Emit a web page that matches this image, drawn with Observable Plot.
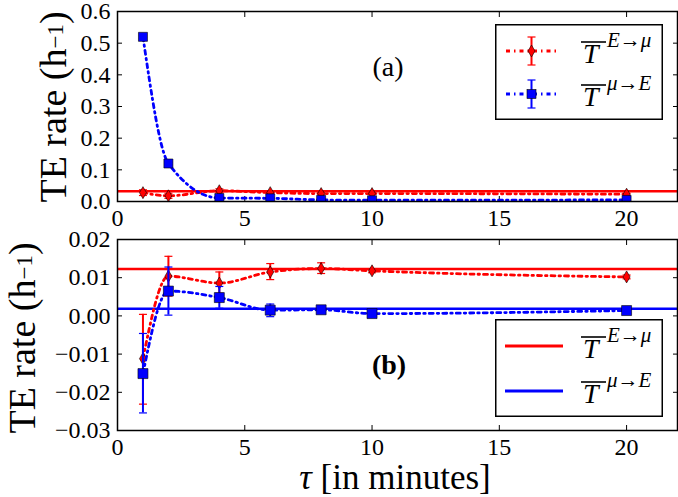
<!DOCTYPE html>
<html>
<head>
<meta charset="utf-8">
<script src="https://cdn.jsdelivr.net/npm/d3@7"></script>
<script src="https://cdn.jsdelivr.net/npm/@observablehq/plot@0.6"></script>
<style>
  html, body { margin: 0; padding: 0; background: white; }
  #wrap { position: relative; width: 678px; height: 497px; overflow: hidden; font-family: "Liberation Serif", serif; color: black; }
  #wrap > svg { position: absolute; left: 0; overflow: visible; }
  #wrap svg text { font-family: "Liberation Serif", serif; }
  .lbl { position: absolute; white-space: nowrap; line-height: 1; font-family: "Liberation Serif", serif; }
  .ylab { font-size: 38px; transform: translate(-50%, -50%) rotate(-90deg); }
  .ylab sup { font-size: 23px; position: relative; top: -3px; vertical-align: baseline; }
  .panel { font-size: 28px; transform: translate(-50%, -50%); }
</style>
</head>
<body>
<div id="wrap"></div>
<script>
// ---- data ----
const tau = [1, 2, 4, 6, 8, 10, 20];
const xTicks = [0, 5, 10, 15, 20];
const aYTicks = [0, 0.1, 0.2, 0.3, 0.4, 0.5, 0.6];
const bYTicks = [-0.03, -0.02, -0.01, 0, 0.01, 0.02];

// panel (a)
const aRedMean = [0.028, 0.018, 0.034, 0.028, 0.025, 0.025, 0.023];
const aRedErr  = [0.009, 0.008, 0.006, 0.005, 0.004, 0.003, 0.003];
const aBlueMean = [0.52, 0.12, 0.011, 0.010, 0.005, 0.004, 0.005];
const aBlueErr  = [0.004, 0.004, 0.003, 0.003, 0.002, 0.002, 0.002];
const aRedLevel = [0.032];

// panel (b)
const bRedMean = [-0.0112, 0.0104, 0.0086, 0.0115, 0.0124, 0.0118, 0.0102];
const bRedLo   = [-0.0231, 0.0052, 0.0059, 0.0095, 0.0111, 0.0113, 0.0097];
const bRedHi   = [0.0004, 0.0156, 0.0115, 0.0137, 0.0139, 0.0123, 0.0107];
const bBlueMean = [-0.0151, 0.0065, 0.0048, 0.0015, 0.0016, 0.0006, 0.0014];
const bBlueLo   = [-0.0254, 0.0002, 0.0020, -0.0002, 0.0008, 0.0002, 0.0010];
const bBlueHi   = [-0.0046, 0.0128, 0.0077, 0.0031, 0.0024, 0.0010, 0.0018];
const bRedLevel = [0.0123];
const bBlueLevel = [0.0019];

const legendLabels = ["E→μ", "μ→E"];
const RED = "#ff0000", BLUE = "#0000ff";
const DASH = "4,4,1.5,4";
const FONT = '"Liberation Serif", serif';

// ---- symbols ----
const thinDiamond = { draw(ctx, size) { const r = Math.sqrt(size / Math.PI); ctx.moveTo(0, -r * 1.2); ctx.lineTo(r * 0.7, 0); ctx.lineTo(0, r * 1.2); ctx.lineTo(-r * 0.7, 0); ctx.closePath(); } };
const square = { draw(ctx, size) { const r = Math.sqrt(size / Math.PI); ctx.rect(-r, -r, 2 * r, 2 * r); } };
const cap = { draw(ctx, size) { const r = Math.sqrt(size / Math.PI); ctx.moveTo(-r, 0); ctx.lineTo(r, 0); } };

function series(mean, lo, hi) {
  return tau.map((t, i) => ({ x: t, y: mean[i], lo: lo[i], hi: hi[i] }));
}
const aRed = series(aRedMean, aRedMean.map((v, i) => v - aRedErr[i]), aRedMean.map((v, i) => v + aRedErr[i]));
const aBlue = series(aBlueMean, aBlueMean.map((v, i) => v - aBlueErr[i]), aBlueMean.map((v, i) => v + aBlueErr[i]));
const bRed = series(bRedMean, bRedLo, bRedHi);
const bBlue = series(bBlueMean, bBlueLo, bBlueHi);

function seriesMarks(data, color, sym, r) {
  return [
    Plot.line(data, { x: "x", y: "y", curve: "monotone-x", stroke: color, strokeWidth: 2.8, strokeDasharray: DASH, clip: true }),
    Plot.ruleX(data, { x: "x", y1: "lo", y2: "hi", stroke: color, strokeWidth: 2, clip: true }),
    Plot.dot(data, { x: "x", y: "lo", symbol: cap, r: 4, stroke: color, strokeWidth: 1.2, fill: "none", clip: true }),
    Plot.dot(data, { x: "x", y: "hi", symbol: cap, r: 4, stroke: color, strokeWidth: 1.2, fill: "none", clip: true }),
    Plot.dot(data, { x: "x", y: "y", symbol: sym, r: r, fill: color, stroke: "black", strokeWidth: 0.6, clip: true })
  ];
}

function axes(yTicks, fmt) {
  return [
    Plot.axisX(xTicks, { anchor: "bottom", tickSize: 0, tickPadding: 7, label: null, tickFormat: d => String(d) }),
    Plot.axisY(yTicks, { anchor: "left", tickSize: 0, tickPadding: 7, label: null, tickFormat: fmt }),
    Plot.axisX(xTicks, { anchor: "bottom", tickSize: -5, label: null, tickFormat: () => "" }),
    Plot.axisX(xTicks, { anchor: "top", tickSize: -5, label: null, tickFormat: () => "" }),
    Plot.axisY(yTicks, { anchor: "left", tickSize: -5, label: null, tickFormat: () => "" }),
    Plot.axisY(yTicks, { anchor: "right", tickSize: -5, label: null, tickFormat: () => "" })
  ];
}

const style = { fontFamily: FONT, fontSize: "24px", color: "black", background: "transparent", overflow: "visible" };

const topPlot = Plot.plot({
  width: 678, height: 230,
  marginLeft: 117, marginRight: 1, marginTop: 11, marginBottom: 29,
  x: { domain: [0, 22] },
  y: { domain: [0, 0.6] },
  style,
  marks: [
    ...axes(aYTicks, d3.format(".1f")),
    Plot.ruleY(aRedLevel, { stroke: RED, strokeWidth: 2.5 }),
    ...seriesMarks(aRed, RED, thinDiamond, 5),
    ...seriesMarks(aBlue, BLUE, square, 4.5),
    Plot.frame({ stroke: "black", strokeWidth: 1.5 })
  ]
});
topPlot.style.top = "0px";

const bottomPlot = Plot.plot({
  width: 678, height: 269,
  marginLeft: 117, marginRight: 1, marginTop: 11, marginBottom: 67,
  x: { domain: [0, 22] },
  y: { domain: [-0.03, 0.02] },
  style,
  marks: [
    ...axes(bYTicks, d3.format(".2f")),
    Plot.ruleY(bRedLevel, { stroke: RED, strokeWidth: 2.5 }),
    Plot.ruleY(bBlueLevel, { stroke: BLUE, strokeWidth: 2.5 }),
    ...seriesMarks(bRed, RED, thinDiamond, 5),
    ...seriesMarks(bBlue, BLUE, square, 5),
    Plot.frame({ stroke: "black", strokeWidth: 1.5 })
  ]
});
bottomPlot.style.top = "228px";

const wrap = document.getElementById("wrap");
wrap.appendChild(topPlot);
wrap.appendChild(bottomPlot);

function addLabel(html, cls, x, y) {
  const d = document.createElement("div");
  d.className = "lbl " + cls;
  d.innerHTML = html;
  d.style.left = x + "px";
  d.style.top = y + "px";
  wrap.appendChild(d);
  return d;
}
addLabel('TE rate (h<sup>−1</sup>)', "ylab", 53, 107);
addLabel('TE rate (h<sup>−1</sup>)', "ylab", 22, 338);
addLabel('(a)', "panel", 388, 67);
addLabel('<b>(b)</b>', "panel", 389, 365);
const xl = addLabel('<i>τ</i> [in minutes]', "panel", 395, 477);
xl.style.fontSize = "35px";

// ---- legends (SVG overlay) ----
const NS = "http://www.w3.org/2000/svg";
function legend(x, y, w, h, kind, rowY, lineX1, lineX2) {
  const s = document.createElementNS(NS, "svg");
  s.setAttribute("width", w); s.setAttribute("height", h);
  s.style.left = x + "px"; s.style.top = y + "px";
  let g = `<rect x="0.75" y="0.75" width="${w - 1.5}" height="${h - 1.5}" fill="white" stroke="black" stroke-width="1.5"/>`;
  [[RED, "d"], [BLUE, "s"]].forEach(([c, m], i) => {
    const ly = rowY[i];
    const mx = (lineX1 + lineX2) / 2;
    if (kind === "err") {
      g += `<line x1="${lineX1}" y1="${ly}" x2="${lineX2}" y2="${ly}" stroke="${c}" stroke-width="2.8" stroke-dasharray="${DASH}"/>`;
      g += `<line x1="${mx}" y1="${ly - 14}" x2="${mx}" y2="${ly + 14}" stroke="${c}" stroke-width="2"/>`;
      g += `<line x1="${mx - 4}" y1="${ly - 14}" x2="${mx + 4}" y2="${ly - 14}" stroke="${c}" stroke-width="1.2"/>`;
      g += `<line x1="${mx - 4}" y1="${ly + 14}" x2="${mx + 4}" y2="${ly + 14}" stroke="${c}" stroke-width="1.2"/>`;
      g += m === "d"
        ? `<path d="M${mx},${ly - 6} L${mx + 3.5},${ly} L${mx},${ly + 6} L${mx - 3.5},${ly} Z" fill="${c}" stroke="black" stroke-width="0.6"/>`
        : `<rect x="${mx - 4.5}" y="${ly - 4.5}" width="9" height="9" fill="${c}" stroke="black" stroke-width="0.6"/>`;
    } else {
      g += `<line x1="${lineX1}" y1="${ly}" x2="${lineX2}" y2="${ly}" stroke="${c}" stroke-width="2.8"/>`;
    }
    const tx = 88, by = ly + 12;
    g += `<line x1="${tx - 2}" y1="${ly - 9}" x2="${tx + 23}" y2="${ly - 9}" stroke="black" stroke-width="1.6"/>`;
    g += `<text x="${tx}" y="${by}" font-family='${FONT}' font-style="italic" font-size="28">T</text>`;
    g += `<text x="${tx + 24}" y="${ly - 4}" font-family='${FONT}' font-style="italic" font-size="21">${legendLabels[i]}</text>`;
  });
  s.innerHTML = g;
  wrap.appendChild(s);
}
legend(495, 24, 168, 96, "err", [27, 70], 11, 62);
legend(495, 319, 168, 98, "line", [27, 72], 10, 68);
</script>
</body>
</html>
